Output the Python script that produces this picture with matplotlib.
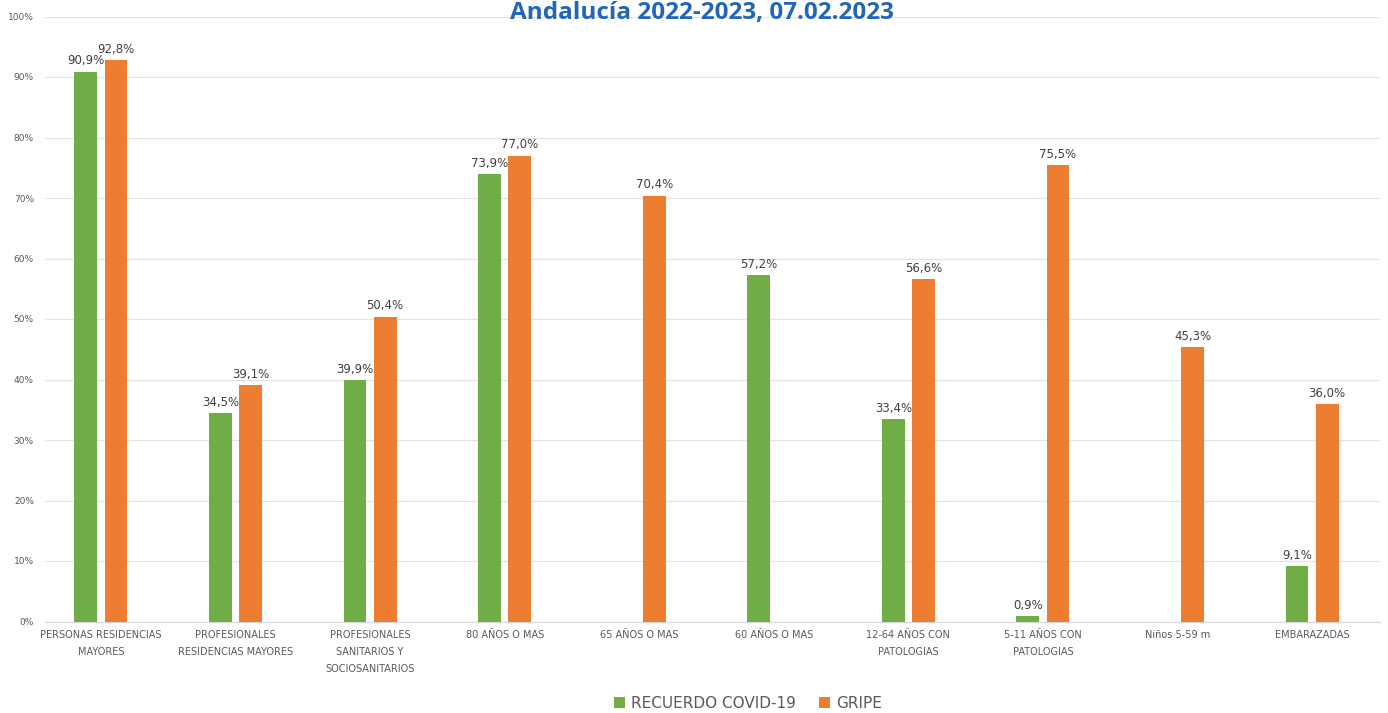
import numpy as np
import matplotlib
matplotlib.use('Agg')
from matplotlib import pyplot as plt

categories = ['PERSONAS RESIDENCIAS\nMAYORES',
              'PROFESIONALES\nRESIDENCIAS MAYORES',
              'PROFESIONALES\nSANITARIOS Y\nSOCIOSANITARIOS',
              '80 AÑOS O MAS',
              '65 AÑOS O MAS',
              '60 AÑOS O MAS',
              '12-64 AÑOS CON\nPATOLOGIAS',
              '5-11 AÑOS CON\nPATOLOGIAS',
              'Niños 5-59 m',
              'EMBARAZADAS']
covid = [90.9, 34.5, 39.9, 73.9, np.nan, 57.2, 33.4, 0.9, np.nan, 9.1]
gripe = [92.8, 39.1, 50.4, 77.0, 70.4, np.nan, 56.6, 75.5, 45.3, 36.0]
series_names = ['RECUERDO COVID-19', 'GRIPE']
title = 'Andalucía 2022-2023, 07.02.2023'

green = '#70ad47'
orange = '#ed7d31'
grey = '#595959'

W, H = 1388, 713
fig = plt.figure(figsize=(W / 100, H / 100), dpi=100)
ax = fig.add_axes([45 / W, 1 - 621.5 / H, (1380 - 45) / W, (621.5 - 16.5) / H])

x = np.arange(len(categories))
bw = 0.17
off = 0.112
b1 = ax.bar(x - off, covid, bw, color=green, label=series_names[0], zorder=3)
b2 = ax.bar(x + off, gripe, bw, color=orange, label=series_names[1], zorder=3)

def fmt(v):
    return ('%.1f%%' % v).replace('.', ',')

for bars, vals in ((b1, covid), (b2, gripe)):
    for rect, v in zip(bars, vals):
        if np.isnan(v):
            continue
        ax.annotate(fmt(v), (rect.get_x() + rect.get_width() / 2, v),
                    xytext=(0, 3), textcoords='offset points',
                    ha='center', va='bottom', fontsize=8.5, color='#404040')

ax.set_xlim(-0.416, 9.505)
ax.set_ylim(0, 100)
ax.set_yticks(np.arange(0, 101, 10))
ax.set_yticklabels(['%d%%' % v for v in range(0, 101, 10)])
ax.tick_params(axis='y', length=0, labelsize=6.5, labelcolor=grey, pad=8)
ax.set_xticks(x)
ax.set_xticklabels(categories, fontsize=7, color=grey, linespacing=1.9)
ax.tick_params(axis='x', length=0, pad=6)
ax.grid(axis='y', color='#e3e3e3', linewidth=0.9, zorder=0)
for s in ['top', 'right', 'left']:
    ax.spines[s].set_visible(False)
ax.spines['bottom'].set_color('#d9d9d9')

fig.text(0.506, 1 - 13 / H, title, ha='center', va='center',
         fontsize=17.5, fontweight='bold', color='#2166b8', family='Open Sans')

fig.legend(handles=[b1, b2], labels=series_names, loc='center',
           bbox_to_anchor=(748 / W, 1 - 703 / H), ncol=2, frameon=False,
           fontsize=11, labelcolor=grey, handlelength=0.7, handleheight=0.7,
           handletextpad=0.4, columnspacing=1.5)

fig.savefig('out.png', dpi=100)
